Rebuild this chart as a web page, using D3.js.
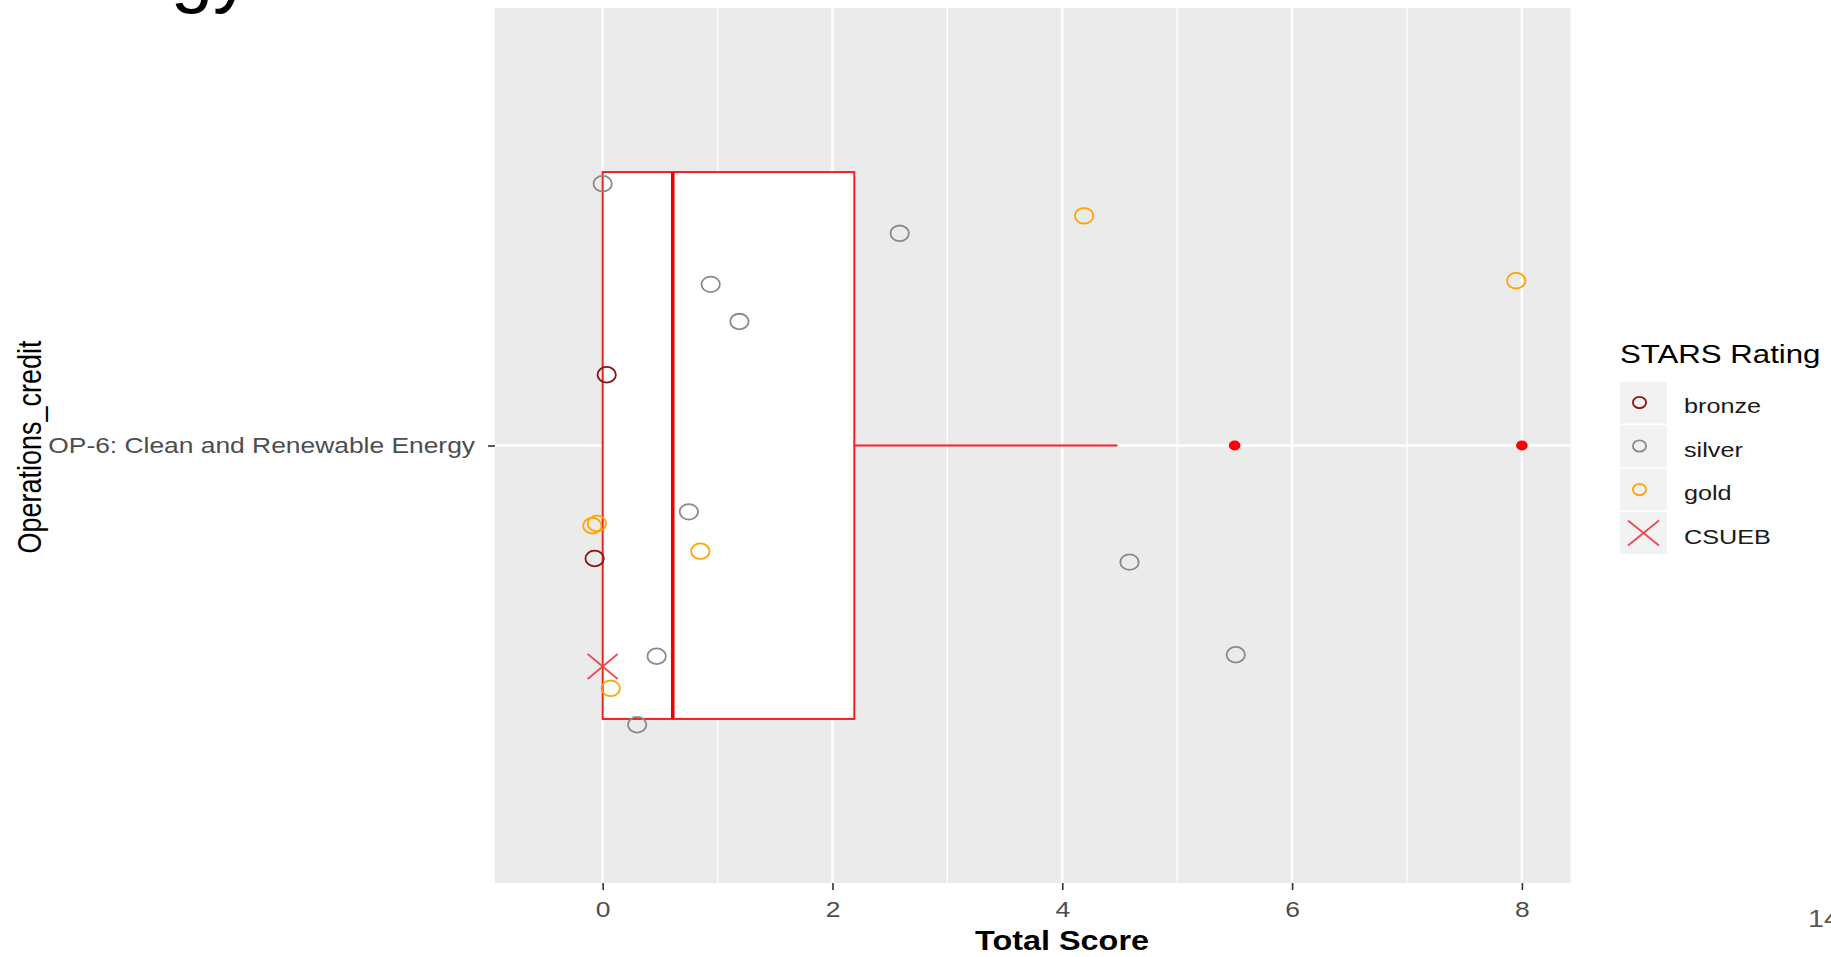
<!DOCTYPE html>
<html>
<head>
<meta charset="utf-8">
<script src="https://cdn.jsdelivr.net/npm/d3@7"></script>
<style>
  html, body { margin: 0; padding: 0; background: #ffffff; }
  svg { display: block; }
  text { font-family: "Liberation Sans", Arial, "DejaVu Sans", sans-serif; }
</style>
</head>
<body>
<svg id="chart" width="1831" height="957"></svg>
<script>
// ---------------- data ----------------
const category = "OP-6: Clean and Renewable Energy";
const xTicks = [0, 2, 4, 6, 8];
const minorTicks = [1, 3, 5, 7];

// box statistics (Total Score)
const boxLower = 0;
const boxQ1 = 0;
const boxMedian = 0.61;
const boxQ3 = 2.19;
const boxUpper = 4.48;
const outliers = [5.5, 8];

// jittered points: score, vertical jitter (category units), rating
const pointScores  = [0.00, 0.94, 1.19, 0.035, 0.75, -0.09, -0.05, -0.07, 0.85, 0.47, 0.07, 0.30, 2.585, 4.19, 7.95, 4.585, 5.51];
const pointJitter  = [0.359, 0.221, 0.170, 0.097, -0.091, -0.110, -0.107, -0.155, -0.145, -0.289, -0.333, -0.383, 0.291, 0.315, 0.226, -0.160, -0.287];
const pointRatings = ["silver","silver","silver","bronze","silver","gold","gold","bronze","gold","silver","gold","silver","silver","gold","gold","silver","silver"];

// the highlighted campus
const csuebScore = [0.0];
const csuebJitter = [-0.303];

const legendLabels = ["bronze", "silver", "gold", "CSUEB"];
const ratingColors = { bronze: "#8B1414", silver: "#8A8A8A", gold: "#FFA500" };

// ---------------- layout ----------------
const svg = d3.select("#chart");
const SX = 1.2; // horizontal stretch of the source image
const panel = { left: 495, right: 1570.5, top: 8, bottom: 883 };

const x = d3.scaleLinear().domain([-0.937, 8.423]).range([panel.left, panel.right]);
const y = d3.scaleLinear().domain([0.4, 1.6]).range([panel.bottom, panel.top]);

// slide title remnant at top-left (only its descenders show)
svg.append("text")
  .attr("transform", `translate(251,-2)`)
  .attr("text-anchor", "end")
  .attr("font-size", 76)
  .attr("fill", "#000")
  .text("Energy");

// panel background
svg.append("rect")
  .attr("x", panel.left).attr("y", panel.top)
  .attr("width", panel.right - panel.left).attr("height", panel.bottom - panel.top)
  .attr("fill", "#EBEBEB");

const grid = svg.append("g");
grid.selectAll("line.minor").data(minorTicks).join("line")
  .attr("x1", d => x(d)).attr("x2", d => x(d))
  .attr("y1", panel.top).attr("y2", panel.bottom)
  .attr("stroke", "#ffffff").attr("stroke-width", 1.3);
grid.selectAll("line.major").data(xTicks).join("line")
  .attr("x1", d => x(d)).attr("x2", d => x(d))
  .attr("y1", panel.top).attr("y2", panel.bottom)
  .attr("stroke", "#ffffff").attr("stroke-width", 2.4);
grid.append("line")
  .attr("x1", panel.left).attr("x2", panel.right)
  .attr("y1", y(1)).attr("y2", y(1))
  .attr("stroke", "#ffffff").attr("stroke-width", 2.4);

// boxplot
const boxG = svg.append("g");
const halfW = 0.375;
boxG.append("line")
  .attr("x1", x(boxQ3)).attr("x2", x(boxUpper))
  .attr("y1", y(1)).attr("y2", y(1))
  .attr("stroke", "#F02020").attr("stroke-width", 2);
boxG.append("line")
  .attr("x1", x(boxLower)).attr("x2", x(boxQ1))
  .attr("y1", y(1)).attr("y2", y(1))
  .attr("stroke", "#F02020").attr("stroke-width", 2);
boxG.append("rect")
  .attr("x", x(boxQ1)).attr("y", y(1 + halfW))
  .attr("width", x(boxQ3) - x(boxQ1)).attr("height", y(1 - halfW) - y(1 + halfW))
  .attr("fill", "#ffffff").attr("stroke", "#F02020").attr("stroke-width", 2);
boxG.append("line")
  .attr("x1", x(boxMedian)).attr("x2", x(boxMedian))
  .attr("y1", y(1 + halfW)).attr("y2", y(1 - halfW))
  .attr("stroke", "#F00000").attr("stroke-width", 3.6);
boxG.selectAll("ellipse.out").data(outliers).join("ellipse")
  .attr("cx", d => x(d)).attr("cy", y(1))
  .attr("rx", 5.8).attr("ry", 5)
  .attr("fill", "#FF0000");

// jittered points
const pts = pointScores.map((s, i) => ({ s, j: pointJitter[i], r: pointRatings[i] }));
svg.append("g").selectAll("ellipse").data(pts).join("ellipse")
  .attr("cx", d => x(d.s)).attr("cy", d => y(1 + d.j))
  .attr("rx", 9.2).attr("ry", 7.8)
  .attr("fill", "none")
  .attr("stroke", d => ratingColors[d.r])
  .attr("stroke-width", 1.8);

// CSUEB cross
const cross = (g, cx, cy, w, h, sw) => {
  g.append("line").attr("x1", cx - w/2).attr("y1", cy - h/2).attr("x2", cx + w/2).attr("y2", cy + h/2)
    .attr("stroke", "#EE4A55").attr("stroke-width", sw);
  g.append("line").attr("x1", cx - w/2).attr("y1", cy + h/2).attr("x2", cx + w/2).attr("y2", cy - h/2)
    .attr("stroke", "#EE4A55").attr("stroke-width", sw);
};
const csG = svg.append("g");
csuebScore.forEach((s, i) => cross(csG, x(s), y(1 + csuebJitter[i]), 30, 25, 1.8));

// x axis
const xAxis = svg.append("g")
  .attr("transform", `translate(0,${panel.bottom})`)
  .call(d3.axisBottom(x).tickValues(xTicks).tickSize(7).tickPadding(11).tickFormat(d3.format("d")));
xAxis.select(".domain").remove();
xAxis.selectAll(".tick line").attr("stroke", "#333333").attr("stroke-width", 1.6);
xAxis.selectAll(".tick text")
  .attr("font-size", 22).attr("fill", "#4D4D4D")
  .attr("font-family", "\"Liberation Sans\", Arial, sans-serif")
  .attr("transform", `scale(${SX},1)`);

// y axis
const yAxis = svg.append("g")
  .attr("transform", `translate(${panel.left},0)`)
  .call(d3.axisLeft(y).tickValues([1]).tickSize(7).tickPadding(10).tickFormat(() => category));
yAxis.select(".domain").remove();
yAxis.selectAll(".tick line").attr("stroke", "#333333").attr("stroke-width", 1.6);
yAxis.selectAll(".tick text")
  .attr("font-size", 22).attr("fill", "#4D4D4D")
  .attr("font-family", "\"Liberation Sans\", Arial, sans-serif")
  .attr("x", -20 / SX)
  .attr("transform", `scale(${SX},1)`);

// axis titles
svg.append("text")
  .attr("transform", `translate(1062,950) scale(${SX},1)`)
  .attr("text-anchor", "middle")
  .attr("font-size", 27).attr("font-weight", "bold").attr("fill", "#000")
  .text("Total Score");

svg.append("text")
  .attr("transform", `translate(41,447) scale(${SX},1) rotate(-90)`)
  .attr("text-anchor", "middle")
  .attr("font-size", 27).attr("fill", "#000")
  .text("Operations_credit");

// legend
const lg = svg.append("g");
lg.append("text")
  .attr("transform", `translate(1620,363) scale(${SX},1)`)
  .attr("font-size", 26).attr("fill", "#000")
  .text("STARS Rating");

const keyTop = 381.5, keyH = 43.5, keyW = 47, keyX = 1620;
legendLabels.forEach((lab, i) => {
  const ky = keyTop + i * keyH;
  lg.append("rect")
    .attr("x", keyX).attr("y", ky).attr("width", keyW).attr("height", keyH - 1.5)
    .attr("fill", "#F2F2F2");
  const cy = ky + (keyH - 1.5) / 2;
  if (lab === "CSUEB") {
    cross(lg, keyX + keyW / 2, cy, 31, 25, 1.8);
  } else {
    lg.append("ellipse")
      .attr("cx", keyX + keyW / 2 - 4).attr("cy", cy)
      .attr("rx", 6.6).attr("ry", 5.6)
      .attr("fill", "none").attr("stroke", ratingColors[lab]).attr("stroke-width", 1.8);
  }
  lg.append("text")
    .attr("transform", `translate(1684,${cy + 10.5}) scale(${SX},1)`)
    .attr("font-size", 21).attr("fill", "#1A1A1A")
    .text(lab);
});

// page number
svg.append("text")
  .attr("transform", `translate(1808,927) scale(${SX},1)`)
  .attr("font-size", 24).attr("fill", "#595959")
  .text("14");
</script>
</body>
</html>
